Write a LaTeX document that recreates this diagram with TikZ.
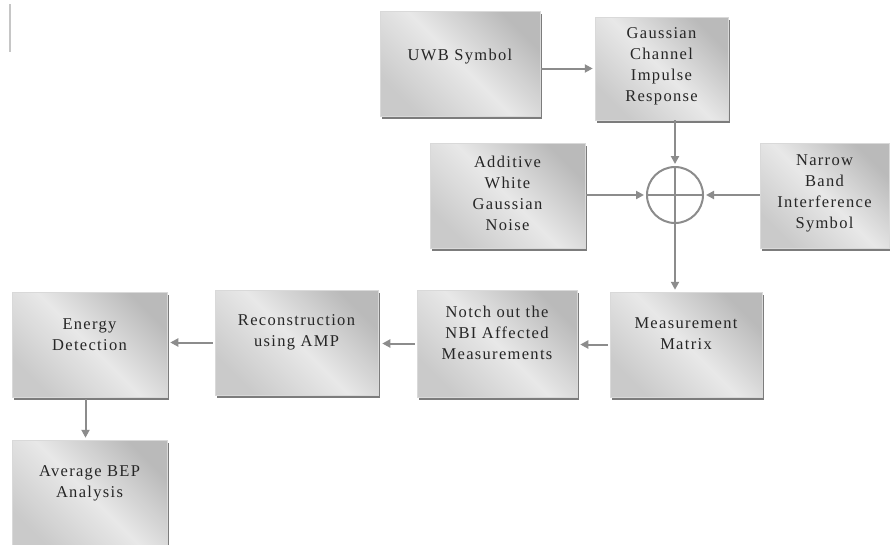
\documentclass[tikz,border=0pt]{standalone}
\usepackage{fontspec}
\setmainfont[LetterSpace=8]{Liberation Serif}
\usetikzlibrary{arrows.meta,shadows}
\definecolor{arr}{HTML}{8C8C8C}
\definecolor{mdark}{HTML}{BABABA}
\definecolor{mlight}{HTML}{E8E8E8}
\definecolor{mmid}{HTML}{CACACA}
\pgfdeclarehorizontalshading{metal}{100bp}{color(0bp)=(mdark); color(25bp)=(mdark); color(50bp)=(mlight); color(75bp)=(mmid); color(100bp)=(mmid)}
\tikzset{
  mbox/.style={draw=gray!30, line width=0.5pt, shading=metal, shading angle=225,
    drop shadow={shadow xshift=1.5pt, shadow yshift=-2.5pt, fill=black!60, opacity=0.85},
    inner sep=0pt},
  boxtext/.style={align=center, font=\fontsize{16.5}{21}\selectfont, text=black!85, inner sep=0pt},
  flow/.style={draw=arr, line width=2pt, -{Triangle[length=8pt,width=8pt]}, shorten >=2pt},
  sumc/.style={circle, draw=arr, line width=2pt, minimum size=56pt, inner sep=0pt}
}
\begin{document}
\begin{tikzpicture}[x=1pt,y=-1pt]
\useasboundingbox (0,0) rectangle (890,544);
\fill[white] (0,0) rectangle (890,544);
\draw[gray!45, line width=1.2pt] (10,4) -- (10,52);

\node[mbox, minimum width=160pt, minimum height=105pt,
  label={[boxtext, yshift=6.5pt]center:UWB Symbol}] (uwb) at (460,63.5) {};
\node[mbox, minimum width=133pt, minimum height=103pt,
  label={[boxtext, yshift=2.5pt]center:{Gaussian\\Channel\\Impulse\\Response}}] (gcir) at (661.5,68.5) {};
\node[mbox, minimum width=155pt, minimum height=105pt,
  label={[boxtext, yshift=2.5pt]center:{Additive\\White\\Gaussian\\Noise}}] (awgn) at (507.5,195.5) {};
\node[mbox, minimum width=129pt, minimum height=105pt,
  label={[boxtext, yshift=2.5pt]center:{Narrow\\Band\\Interference\\Symbol}}] (nbi) at (824.5,195.5) {};
\node[sumc] (sum) at (675,195) {};
\draw[arr, line width=2pt] (sum.north) -- (sum.south) (sum.west) -- (sum.east);

\node[mbox, minimum width=152pt, minimum height=105pt,
  label={[boxtext, yshift=10.5pt]center:{Measurement\\Matrix}}] (meas) at (686,344.5) {};
\node[mbox, minimum width=160pt, minimum height=107pt,
  label={[boxtext, yshift=10.5pt]center:{Notch out the\\NBI Affected\\Measurements}}] (notch) at (497,343.5) {};
\node[mbox, minimum width=163pt, minimum height=105pt,
  label={[boxtext, yshift=10pt]center:{Reconstruction\\using AMP}}] (recon) at (296.5,342.5) {};
\node[mbox, minimum width=155pt, minimum height=105pt,
  label={[boxtext, yshift=9.5pt]center:{Energy\\Detection}}] (energy) at (89.5,344.5) {};
\node[mbox, minimum width=155pt, minimum height=110pt,
  label={[boxtext, yshift=11.5pt]center:{Average BEP\\Analysis}}] (avg) at (89.5,495) {};

\draw[flow] ([xshift=1pt]uwb.east |- gcir.west) -- (gcir.west);
\draw[flow] (gcir.south -| sum.north) -- (sum.north);
\draw[flow] ([xshift=1pt]awgn.east |- sum.west) -- (sum.west);
\draw[flow] (nbi.west |- sum.east) -- (sum.east);
\draw[flow] (sum.south) -- (sum.south |- meas.north);
\draw[flow, shorten >=3pt] ([xshift=-2pt]meas.west) -- (meas.west -| notch.east);
\draw[flow, shorten >=4pt] ([xshift=-2pt]notch.west) -- (notch.west -| recon.east);
\draw[flow, shorten >=3pt] ([xshift=-2pt]recon.west) -- (recon.west -| energy.east);
\draw[flow] ([xshift=-4pt, yshift=-2pt]energy.south) -- ([xshift=-4pt]avg.north);
\end{tikzpicture}
\end{document}
